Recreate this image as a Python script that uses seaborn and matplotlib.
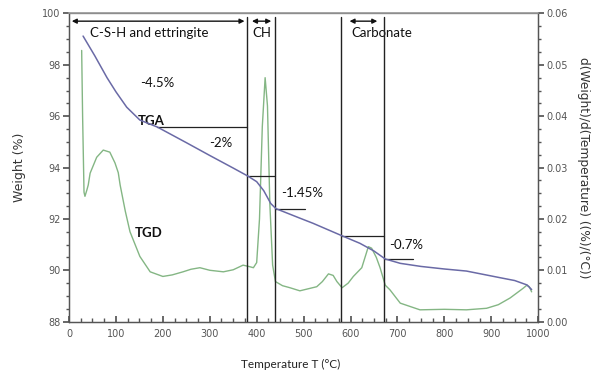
import matplotlib
matplotlib.use("Agg")
import matplotlib.pyplot as plt
import seaborn as sns
import pandas as pd
from matplotlib.ticker import MultipleLocator

# Thermogravimetric curve: temperature (°C) vs. remaining weight (%)
tga_temp = [30, 55, 81, 100, 123, 151, 188, 250, 300, 350, 381, 400, 415, 430, 441,
            492, 520, 581, 620, 650, 674, 706, 750, 800, 847, 919, 950, 976, 986]
tga_weight = [99.12, 98.35, 97.5, 96.95, 96.35, 95.85, 95.58, 94.97, 94.47, 93.98, 93.67,
              93.45, 93.1, 92.6, 92.4, 92.03, 91.83, 91.35, 91.05, 90.75, 90.44, 90.27,
              90.15, 90.05, 89.97, 89.71, 89.6, 89.43, 89.25]

# Derivative curve: temperature (°C) vs. d(Weight)/d(Temperature)
tgd_temp = [27, 29, 32, 34, 38, 41, 45, 59, 73, 87, 98, 105, 109, 120, 130, 151, 173,
            200, 220, 243, 260, 279, 300, 329, 350, 371, 385, 393, 400, 406, 412, 418,
            423, 428, 434, 440, 455, 471, 492, 510, 528, 540, 553, 563, 571, 582, 595,
            606, 624, 638, 645, 655, 663, 674, 684, 706, 748, 800, 847, 890, 915, 940,
            968, 976, 981, 986]
tgd_rate = [0.0528, 0.040, 0.0252, 0.0244, 0.0256, 0.0266, 0.0289, 0.0320, 0.0334,
            0.0330, 0.0309, 0.0290, 0.0266, 0.0215, 0.0175, 0.0127, 0.0097, 0.0088,
            0.0091, 0.0097, 0.0102, 0.0105, 0.0100, 0.0097, 0.0101, 0.0110, 0.0107,
            0.0105, 0.0115, 0.0200, 0.0380, 0.0475, 0.0420, 0.0230, 0.0110, 0.0078,
            0.0070, 0.0066, 0.0060, 0.0064, 0.0068, 0.0078, 0.0093, 0.0090, 0.0078,
            0.0066, 0.0075, 0.0088, 0.0105, 0.0146, 0.0143, 0.0125, 0.0105, 0.0071,
            0.0062, 0.0036, 0.0023, 0.0024, 0.0023, 0.0026, 0.0033, 0.0046, 0.0065,
            0.0071, 0.0068, 0.0058]

# Decomposition stage boundaries (°C) and the weight level at each one
bounds = [380, 440, 580, 672]
bound_weight = [93.67, 92.4, 91.35, 90.44]
stage_labels = ["-4.5%", "-2%", "-1.45%", "-0.7%"]
region_labels = ["C-S-H and ettringite", "CH", "Carbonate"]

x_ticks = list(range(0, 1001, 100))
y_ticks = list(range(88, 101, 2))
y2_ticks = [0.00, 0.01, 0.02, 0.03, 0.04, 0.05, 0.06]

sns.set_theme(style="white")
plt.rcParams["font.family"] = ["Lato", "DejaVu Sans"]

tga = pd.DataFrame({"T": tga_temp, "W": tga_weight})
tgd = pd.DataFrame({"T": tgd_temp, "R": tgd_rate})

fig = plt.figure(figsize=(6, 3.74), dpi=100)
ax = fig.add_axes([0.115, 0.140, 0.782, 0.824])
ax2 = ax.twinx()

tick_col = "#555555"
sns.lineplot(data=tgd, x="T", y="R", ax=ax2, color="#84b684", lw=1.0)
sns.lineplot(data=tga, x="T", y="W", ax=ax, color="#6a6aa6", lw=1.1, zorder=5)
ax.set_zorder(ax2.get_zorder() + 1)
ax.patch.set_visible(False)

ax.set_xlim(0, 1000)
ax.set_ylim(88, 100)
ax2.set_ylim(0, 0.06)
ax.set_xticks(x_ticks)
ax.set_yticks(y_ticks)
ax2.set_yticks(y2_ticks)
ax2.set_yticklabels([f"{v:.2f}" for v in y2_ticks])
ax.xaxis.set_minor_locator(MultipleLocator(25))
ax.yaxis.set_minor_locator(MultipleLocator(0.5))
ax2.yaxis.set_minor_locator(MultipleLocator(0.0025))

for a in (ax, ax2):
    for s in a.spines.values():
        s.set_color("#555555")
        s.set_linewidth(0.9)
ax.spines["top"].set_color("#999999")
ax.spines["top"].set_linewidth(1.2)

for lab in ax.get_xticklabels() + ax.get_yticklabels() + ax2.get_yticklabels():
    lab.set_family("DejaVu Sans")

ax.tick_params(axis="x", which="both", direction="in", bottom=True, colors=tick_col,
               labelsize=7, pad=5)
ax.tick_params(axis="x", which="major", length=4)
ax.tick_params(axis="x", which="minor", length=3)
ax.tick_params(axis="y", which="both", direction="out", left=True, colors=tick_col,
               labelsize=7, pad=2)
ax.tick_params(axis="y", which="major", length=4)
ax.tick_params(axis="y", which="minor", length=2)
ax2.tick_params(axis="y", which="both", direction="out", right=True, colors=tick_col,
                labelsize=7, pad=2)
ax2.tick_params(axis="y", which="major", length=4)
ax2.tick_params(axis="y", which="minor", length=2)

ax.set_xlabel("Temperature T (°C)", fontsize=8.5, color="#222222")
ax.xaxis.set_label_coords(0.473, -0.12)
ax.set_ylabel("Weight (%)", fontsize=9, color="#333333", labelpad=12, family="DejaVu Sans")
ax2.set_ylabel("d(Weight)/d(Temperature) ((%)/(°C))", fontsize=8.8, color="#333333",
               rotation=270, labelpad=16, family="DejaVu Sans")

# Stage boundaries
for b in bounds:
    ax.plot([b, b], [88, 99.85], color="#222222", lw=1.0, zorder=4)

# Step markers for the weight losses
ax.plot([188, bounds[0]], [95.58, 95.58], color="#222222", lw=0.9, zorder=4)
ax.plot([bounds[0], bounds[1]], [bound_weight[0], bound_weight[0]], color="#222222", lw=0.9, zorder=4)
ax.plot([bounds[1], 503], [bound_weight[1], bound_weight[1]], color="#222222", lw=0.9, zorder=4)
ax.plot([bounds[2], bounds[3]], [bound_weight[2], bound_weight[2]], color="#222222", lw=0.9, zorder=4)
ax.plot([bounds[3], 733], [bound_weight[3], bound_weight[3]], color="#222222", lw=0.9, zorder=4)

# Region arrows
arrow_kw = dict(arrowstyle="<|-|>", color="#111111", lw=1.0, mutation_scale=7)
ax.annotate("", xy=(0, 99.7), xytext=(bounds[0], 99.7), arrowprops=arrow_kw)
ax.annotate("", xy=(384, 99.7), xytext=(437, 99.7), arrowprops=arrow_kw)
ax.annotate("", xy=(592, 99.7), xytext=(663, 99.7), arrowprops=arrow_kw)

txt = dict(fontsize=9.5, color="#111111")
ax.text(170, 99.25, region_labels[0], ha="center", va="center", **txt)
ax.text(411, 99.25, region_labels[1], ha="center", va="center", **txt)
ax.text(667, 99.23, region_labels[2], ha="center", va="center", **txt)

ax.text(151, 97.3, stage_labels[0], ha="left", va="center", **txt)
ax.text(298, 94.95, stage_labels[1], ha="left", va="center", **txt)
ax.text(452, 93.0, stage_labels[2], ha="left", va="center", **txt)
ax.text(683, 91.0, stage_labels[3], ha="left", va="center", **txt)
ax.text(146, 95.8, "TGA", ha="left", va="center", fontsize=9.5, fontweight="bold", color="#111111")
ax.text(141, 91.45, "TGD", ha="left", va="center", fontsize=9.5, fontweight="bold", color="#111111")

fig.savefig("out.png", dpi=100)
